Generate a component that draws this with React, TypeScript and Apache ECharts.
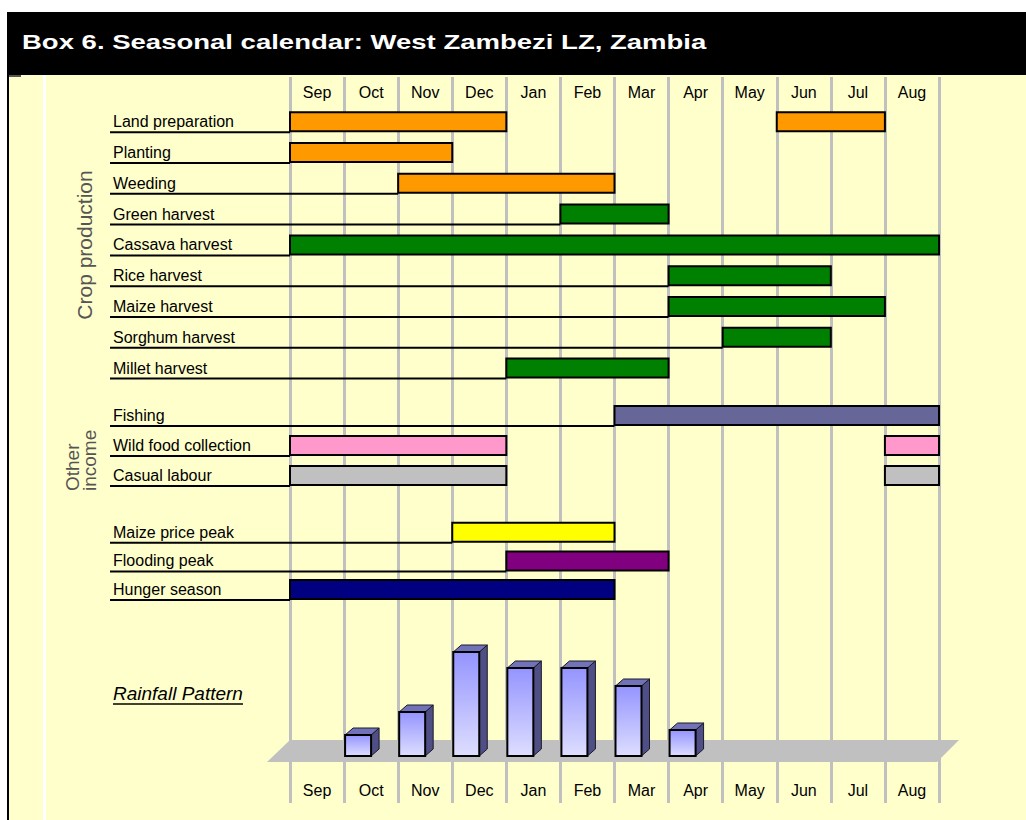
import React, { useEffect, useRef } from 'react';
import * as echarts from 'echarts';

const months = ['Sep', 'Oct', 'Nov', 'Dec', 'Jan', 'Feb', 'Mar', 'Apr', 'May', 'Jun', 'Jul', 'Aug'];

const cropActivities = ['Land preparation', 'Planting', 'Weeding', 'Green harvest', 'Cassava harvest', 'Rice harvest', 'Maize harvest', 'Sorghum harvest', 'Millet harvest'];
const cropPeriods = [[[0, 4], [9, 11]], [[0, 3]], [[2, 6]], [[5, 7]], [[0, 12]], [[7, 10]], [[7, 11]], [[8, 10]], [[4, 7]]];
const cropColors = ['#FF9900', '#FF9900', '#FF9900', '#008000', '#008000', '#008000', '#008000', '#008000', '#008000'];

const incomeActivities = ['Fishing', 'Wild food collection', 'Casual labour'];
const incomePeriods = [[[6, 12]], [[0, 4], [11, 12]], [[0, 4], [11, 12]]];
const incomeColors = ['#666699', '#FF99CC', '#C0C0C0'];

const otherEvents = ['Maize price peak', 'Flooding peak', 'Hunger season'];
const otherPeriods = [[[3, 6]], [[4, 7]], [[0, 6]]];
const otherColors = ['#FFFF00', '#800080', '#000080'];

const rainfall = [null, 21, 44, 104, 88, 88, 70, 26, null, null, null, null];

const titleText = 'Box 6. Seasonal calendar: West Zambezi LZ, Zambia';

const FONT = '"Liberation Sans", Arial, Helvetica, sans-serif';

function buildData(periods: number[][][]) {
  const out: number[][] = [];
  periods.forEach((list, row) => {
    list.forEach((p, k) => out.push([row, p[0], p[1], k === 0 ? 1 : 0]));
  });
  return out;
}

function ganttRender(colors: string[]) {
  return (params: any, api: any) => {
    const row = api.value(0);
    const s = api.value(1);
    const e = api.value(2);
    const first = api.value(3);
    const p0 = api.coord([s, row]);
    const p1 = api.coord([e, row]);
    const h = 19;
    const children: any[] = [];
    if (first) {
      const gx = api.coord([0, row])[0];
      children.push({
        type: 'line',
        shape: { x1: gx - 180, y1: p0[1] + h / 2 + 1, x2: p0[0], y2: p0[1] + h / 2 + 1 },
        style: { stroke: '#000', lineWidth: 2 },
      });
    }
    children.push({
      type: 'rect',
      shape: { x: p0[0], y: p0[1] - h / 2, width: p1[0] - p0[0], height: h },
      style: { fill: colors[row], stroke: '#000', lineWidth: 2 },
    });
    return { type: 'group', children };
  };
}

function rainRender(params: any, api: any) {
  const idx = api.value(0);
  const v = api.value(1);
  const base = api.coord([idx, 0]);
  const top = api.coord([idx, v]);
  const bw = api.size([1, 0])[0];
  const x0 = base[0] - bw / 2 + 1;
  const w = 26;
  const dx = 8;
  const dy = 7;
  const yb = base[1];
  const yt = top[1];
  return {
    type: 'group',
    children: [
      {
        type: 'polygon',
        shape: { points: [[x0 + w, yt], [x0 + w + dx, yt - dy], [x0 + w + dx, yb - dy], [x0 + w, yb]] },
        style: { fill: '#4F4F86', stroke: '#1a1a2a', lineWidth: 1 },
      },
      {
        type: 'polygon',
        shape: { points: [[x0, yt], [x0 + dx, yt - dy], [x0 + w + dx, yt - dy], [x0 + w, yt]] },
        style: { fill: '#7272B8', stroke: '#1a1a2a', lineWidth: 1 },
      },
      {
        type: 'rect',
        shape: { x: x0, y: yt, width: w, height: yb - yt },
        style: {
          fill: new echarts.graphic.LinearGradient(0, 0, 0, 1, [
            { offset: 0, color: '#9494FF' },
            { offset: 1, color: '#DEDEFF' },
          ]),
          stroke: '#000',
          lineWidth: 2,
        },
      },
    ],
  };
}

const GL = 290;
const GR = 87;

function catY(gridIndex: number, data: string[]) {
  return {
    type: 'category',
    gridIndex,
    data,
    inverse: true,
    axisLine: { show: false },
    axisTick: { show: false },
    splitLine: { show: false },
    axisLabel: { align: 'left', margin: GL - 113, fontSize: 16, color: '#000', fontFamily: FONT },
  };
}

function valX(gridIndex: number) {
  return { type: 'value', gridIndex, min: 0, max: 12, show: false };
}

export default function App() {
  const ref = useRef<HTMLDivElement>(null);
  useEffect(() => {
    if (!ref.current) return;
    const chart = echarts.init(ref.current, null, { renderer: 'svg' });
    const monthAxisCommon = {
      type: 'category',
      gridIndex: 0,
      data: months,
      boundaryGap: true,
      axisLine: { show: false },
      axisTick: { show: false },
    };
    const option: any = {
      animation: false,
      backgroundColor: '#FFFFCC',
      grid: [
        { left: GL, right: GR, top: 77, bottom: 17 },
        { left: GL, right: GR, top: 106.3, height: 277.2 },
        { left: GL, right: GR, top: 400.5, height: 90 },
        { left: GL, right: GR, top: 517.9, height: 86 },
        { left: GL, right: GR, top: 636, bottom: 64 },
      ],
      xAxis: [
        {
          ...monthAxisCommon,
          position: 'top',
          axisLabel: { inside: true, margin: 7, interval: 0, fontSize: 16, color: '#000', fontFamily: FONT },
          splitLine: { show: true, interval: 0, lineStyle: { color: '#C0C0C0', width: 3 } },
        },
        {
          ...monthAxisCommon,
          position: 'bottom',
          axisLabel: { inside: true, margin: 5, interval: 0, fontSize: 16, color: '#000', fontFamily: FONT },
          splitLine: { show: false },
        },
        valX(1),
        valX(2),
        valX(3),
        { type: 'category', gridIndex: 4, data: months, show: false },
      ],
      yAxis: [
        { type: 'value', gridIndex: 0, show: false },
        catY(1, cropActivities),
        catY(2, incomeActivities),
        catY(3, otherEvents),
        { type: 'value', gridIndex: 4, min: 0, max: 120, show: false },
      ],
      graphic: [
        { type: 'rect', z: 0, shape: { x: 0, y: 0, width: 1026, height: 12 }, style: { fill: '#fff' } },
        { type: 'rect', z: 0, shape: { x: 0, y: 0, width: 7, height: 820 }, style: { fill: '#fff' } },
        { type: 'rect', z: 0, shape: { x: 7, y: 12, width: 2, height: 808 }, style: { fill: '#000' } },
        { type: 'rect', z: 0, shape: { x: 7, y: 12, width: 1019, height: 63 }, style: { fill: '#000' } },
        { type: 'rect', z: 0, shape: { x: 43, y: 75, width: 3, height: 745 }, style: { fill: '#fff' } },
        { type: 'rect', z: 0, shape: { x: 9, y: 75, width: 12, height: 2 }, style: { fill: '#555' } },
        {
          type: 'text',
          z: 5,
          x: 22,
          y: 42,
          scaleX: 1.31,
          style: { text: titleText, fill: '#fff', fontSize: 21, fontWeight: 'bold', fontFamily: FONT, align: 'left', verticalAlign: 'middle' },
        },
        {
          type: 'polygon',
          z: 0,
          shape: { points: [[290, 740], [959, 740], [937, 762], [267, 762]] },
          style: { fill: '#C0C0C0' },
        },
        {
          type: 'text',
          x: 84,
          y: 245,
          rotation: Math.PI / 2,
          style: { text: 'Crop production', fill: '#555', fontSize: 21, fontFamily: FONT, align: 'center', verticalAlign: 'middle' },
        },
        {
          type: 'text',
          x: 81,
          y: 491,
          rotation: Math.PI / 2,
          style: { text: 'Other\nincome', fill: '#555', fontSize: 19, lineHeight: 17, fontFamily: FONT, align: 'left', verticalAlign: 'middle' },
        },
        {
          type: 'text',
          x: 113,
          y: 693,
          style: { text: 'Rainfall Pattern', fill: '#000', fontSize: 19, fontStyle: 'italic', fontFamily: FONT, align: 'left', verticalAlign: 'middle' },
        },
        { type: 'line', shape: { x1: 113, y1: 704, x2: 243, y2: 704 }, style: { stroke: '#000', lineWidth: 1.5 } },
      ],
      series: [
        {
          type: 'custom',
          xAxisIndex: 2,
          yAxisIndex: 1,
          renderItem: ganttRender(cropColors),
          encode: { x: [1, 2], y: 0 },
          data: buildData(cropPeriods),
        },
        {
          type: 'custom',
          xAxisIndex: 3,
          yAxisIndex: 2,
          renderItem: ganttRender(incomeColors),
          encode: { x: [1, 2], y: 0 },
          data: buildData(incomePeriods),
        },
        {
          type: 'custom',
          xAxisIndex: 4,
          yAxisIndex: 3,
          renderItem: ganttRender(otherColors),
          encode: { x: [1, 2], y: 0 },
          data: buildData(otherPeriods),
        },
        {
          type: 'custom',
          xAxisIndex: 5,
          yAxisIndex: 4,
          renderItem: rainRender,
          encode: { x: 0, y: 1 },
          data: rainfall.map((v, i) => [i, v]).filter((d) => d[1] !== null),
        },
      ],
    };
    chart.setOption(option);
    return () => chart.dispose();
  }, []);
  return <div ref={ref} style={{ position: 'absolute', left: 0, top: 0, width: 1026, height: 820 }} />;
}
